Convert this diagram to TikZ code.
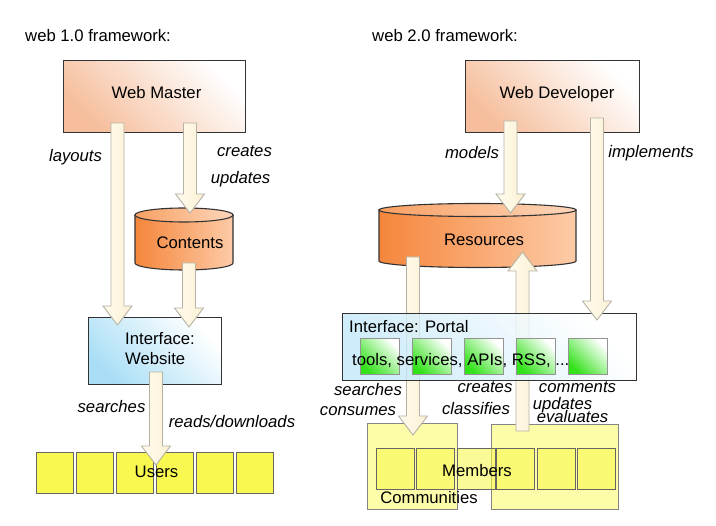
\documentclass[tikz,border=0pt]{standalone}
\usepackage{fontspec}
\setmainfont{Liberation Sans}
\usetikzlibrary{calc}
\newcommand{\dfont}{\fontsize{16.7pt}{20pt}\selectfont}
\definecolor{boxline}{HTML}{333333}
\definecolor{peachc}{HTML}{F6BE9C}
\definecolor{bluec}{HTML}{A9DEF6}
\definecolor{cylA}{HTML}{F5863C}
\definecolor{cylB}{HTML}{FDCBA7}
\definecolor{cyltA}{HTML}{F8A062}
\definecolor{cyltB}{HTML}{FDD6BB}
\definecolor{arrA}{HTML}{FFFCEE}
\definecolor{arrB}{HTML}{FBF0D4}
\definecolor{arrline}{HTML}{B5B2A5}
\definecolor{yel}{HTML}{F8F850}
\definecolor{yelc}{HTML}{FAFA70}
\definecolor{greenc}{HTML}{33E21A}
\definecolor{sqline}{HTML}{666666}
\newcommand{\bardown}[2]{\path[blockarr] let \p1=(#1),\p2=(#2) in
  (\x1-6.5pt,\y1) -- (\x1-6.5pt,\y2+19pt) -- (\x1-14.5pt,\y2+19pt) -- (\x1,\y2)
  -- (\x1+14.5pt,\y2+19pt) -- (\x1+6.5pt,\y2+19pt) -- (\x1+6.5pt,\y1) -- cycle;}
\newcommand{\barup}[2]{\path[blockarr] let \p1=(#1),\p2=(#2) in
  (\x1-6.5pt,\y1) -- (\x1-6.5pt,\y2-19pt) -- (\x1-14.5pt,\y2-19pt) -- (\x1,\y2)
  -- (\x1+14.5pt,\y2-19pt) -- (\x1+6.5pt,\y2-19pt) -- (\x1+6.5pt,\y1) -- cycle;}
\begin{document}
\begin{tikzpicture}[x=1pt,y=-1pt,font=\dfont,
  txt/.style={inner sep=0pt},
  lbl/.style={inner sep=0pt, font=\dfont\itshape, anchor=base},
  box/.style={draw=boxline, line width=1.1pt, inner sep=0pt, anchor=north west},
  peachbox/.style={box, left color=peachc, right color=white, shading angle=135},
  bluebox/.style={box, left color=bluec, right color=white, shading angle=135},
  portalbox/.style={box, left color=bluec!70, right color=white, shading angle=135, fill opacity=0.8},
  greensq/.style={draw=sqline!70, line width=1pt, inner sep=0pt, anchor=north west,
     left color=greenc, right color=white, shading angle=135},
  usq/.style={draw=sqline, line width=1pt, fill=yel, inner sep=0pt, anchor=north west},
  msq/.style={draw=sqline, line width=1pt, fill=yel, fill opacity=0.6, inner sep=0pt, anchor=north west},
  commbox/.style={draw=sqline!80, line width=1pt, fill=yelc, fill opacity=0.6, inner sep=0pt, anchor=north west},
  cylline/.style={draw=boxline, line width=1.1pt},
  cylbody/.style={left color=cylA, right color=cylB},
  cyltop/.style={left color=cyltA, right color=cyltB},
  blockarr/.style={draw=arrline, line width=0.9pt, left color=arrA, right color=arrB}]
\useasboundingbox[fill=white] (0,0) rectangle (716,526);

% ---------- web 1.0 ----------
\node[txt, anchor=base west] (t1) at (25,42) {web 1.0 framework:};
\node[peachbox, minimum width=182pt, minimum height=72pt] (wm) at (63,60) {};
\node[txt, anchor=base] (wmt) at (156.5,99) {Web Master};

\draw[cylline, cylbody] (135,215) -- (135,263)
  arc[start angle=180, end angle=360, x radius=49pt, y radius=7pt] -- (233,215) -- cycle;
\draw[cylline, cyltop] (184,215) ellipse[x radius=49pt, y radius=7pt];
\node[txt, anchor=base] (contents) at (190,249) {Contents};

\node[bluebox, minimum width=133pt, minimum height=67pt] (web) at (88,317) {};
\node[txt, anchor=west, align=left] (webt) at (125,349) {Interface:\\Website};

\foreach \i in {0,...,5}
  \node[usq, minimum width=37pt, minimum height=41pt] (u\i) at (36+40*\i,452) {};

\coordinate (wmA) at (117.5,123); \coordinate (webA) at (117.5,325);
\coordinate (wmB) at (190,123);   \coordinate (conA) at (190,213);
\coordinate (conB) at (189,263);  \coordinate (webB) at (189,327);
\coordinate (webC) at (156,372);  \coordinate (usrA) at (156,465);
\bardown{wmA}{webA}
\bardown{wmB}{conA}
\bardown{conB}{webB}
\bardown{webC}{usrA}
\node[txt, anchor=base] (users) at (156.5,478) {Users};

\node[lbl] (l1) at (75.5,162) {layouts};
\node[lbl] (l2) at (244.5,157) {creates};
\node[lbl] (l3) at (240.5,184) {updates};
\node[lbl] (l4) at (111.5,413) {searches};
\node[lbl] (l5) at (232,428) {reads/downloads};

% ---------- web 2.0 ----------
\node[txt, anchor=base west] (t2) at (372,42) {web 2.0 framework:};
\node[peachbox, minimum width=174pt, minimum height=72pt] (wd) at (465,60) {};
\node[txt, anchor=base] (wdt) at (557,99) {Web Developer};

\draw[cylline, cylbody] (379,210) -- (379,261)
  arc[start angle=180, end angle=360, x radius=98.5pt, y radius=6.5pt] -- (576,210) -- cycle;
\draw[cylline, cyltop] (477.5,210) ellipse[x radius=98.5pt, y radius=6.5pt];
\node[txt, anchor=base] (res) at (484,246) {Resources};

\node[commbox, minimum width=90pt, minimum height=86pt] (c1) at (367,423) {};
\node[commbox, minimum width=127pt, minimum height=85pt] (c2) at (491,424) {};
\foreach \xx [count=\k] in {376,416,457,496,537,577}
  \node[msq, minimum width=38pt, minimum height=41pt] (m\k) at (\xx,448) {};

\coordinate (wdA) at (510.5,121); \coordinate (resA) at (510.5,213);
\coordinate (resB) at (413,257);  \coordinate (comA) at (413,435);
\coordinate (comB) at (522.5,431); \coordinate (resC) at (522.5,252);
\coordinate (wdB) at (597,118);   \coordinate (porA) at (597,320);
\bardown{wdA}{resA}
\bardown{resB}{comA}
\barup{comB}{resC}

\node[portalbox, minimum width=294pt, minimum height=67pt] (portal) at (342,313) {};
\foreach \i in {0,...,4}
  \node[greensq, minimum width=39pt, minimum height=36pt] (g\i) at (360+52*\i,338) {};
\node[txt, anchor=base west] (port) at (349,333) {Interface: Portal};
\node[txt, anchor=base west] (tools) at (352,366) {tools, services, APIs, RSS, ...};
\bardown{wdB}{porA}

\node[txt, anchor=base] (members) at (477,477) {Members};
\node[txt, anchor=base] (comm) at (429,504) {Communities};

\node[lbl] (r1) at (472,159) {models};
\node[lbl] (r2) at (651,158) {implements};
\node[lbl] (r3) at (368,396) {searches};
\node[lbl] (r4) at (358,416) {consumes};
\node[lbl] (r5) at (485,393) {creates};
\node[lbl] (r6) at (476,415) {classifies};
\node[lbl] (r7) at (577.5,393) {comments};
\node[lbl] (r8) at (562.5,410) {updates};
\node[lbl] (r9) at (572.5,423) {evaluates};
\end{tikzpicture}
\end{document}
